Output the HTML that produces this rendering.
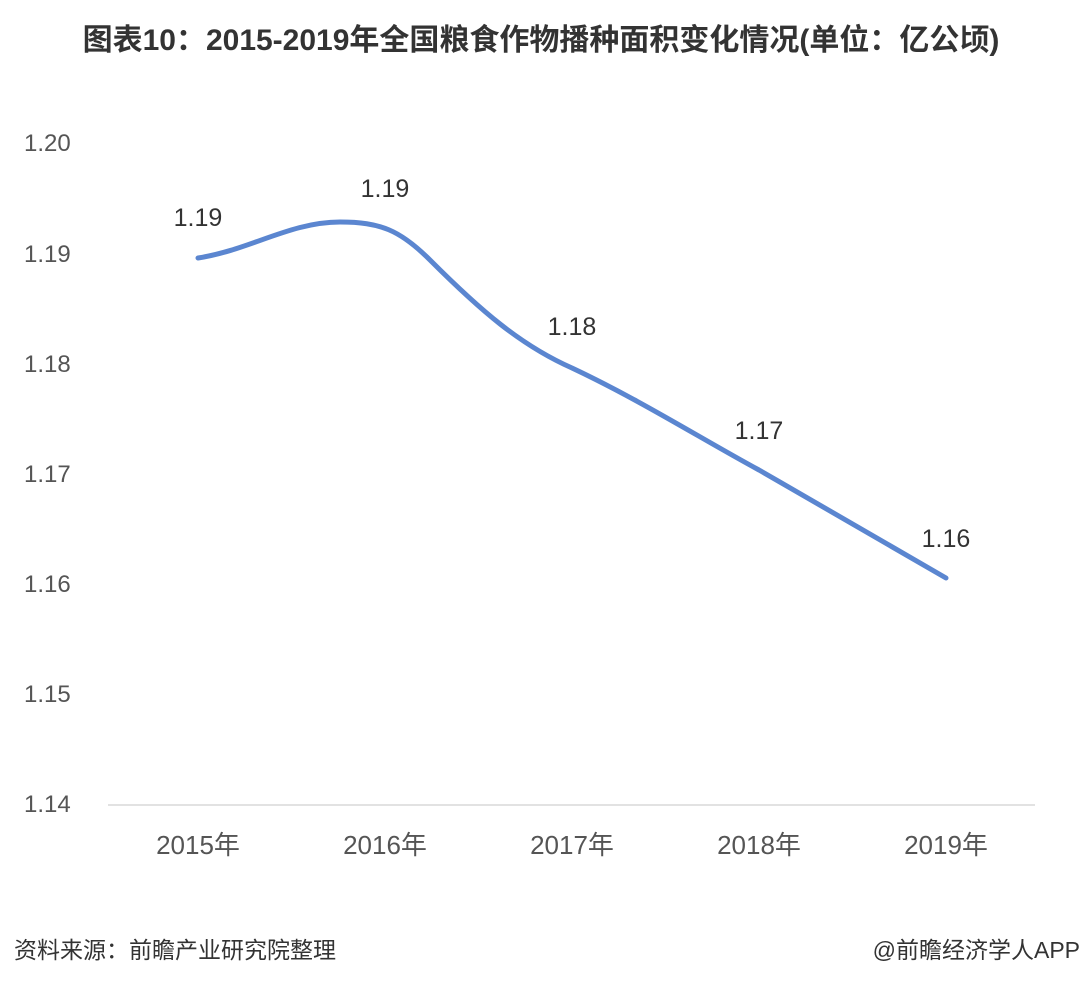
<!DOCTYPE html>
<html><head><meta charset="utf-8"><style>
body{margin:0;background:#fff;}
svg{display:block;}
</style></head><body>
<svg width="1080" height="986" viewBox="0 0 1080 986" xmlns="http://www.w3.org/2000/svg">
<rect width="1080" height="986" fill="#ffffff"/>
<text x="541" y="50" text-anchor="middle" font-family="Liberation Sans, Noto Sans CJK SC, sans-serif" font-size="30" font-weight="bold" fill="#333">图表10：2015-2019年全国粮食作物播种面积变化情况(单位：亿公顷)</text>
<g font-family="Liberation Sans, Noto Sans CJK SC, sans-serif" font-size="24" fill="#555">
<text x="24" y="151">1.20</text>
<text x="24" y="262">1.19</text>
<text x="24" y="372">1.18</text>
<text x="24" y="482">1.17</text>
<text x="24" y="592">1.16</text>
<text x="24" y="702">1.15</text>
<text x="24" y="812">1.14</text>
</g>
<line x1="108" y1="805" x2="1035" y2="805" stroke="#d9d9d9" stroke-width="1.5"/>
<g font-family="Liberation Sans, Noto Sans CJK SC, sans-serif" font-size="26" fill="#555" text-anchor="middle">
<text x="198" y="854">2015年</text>
<text x="385" y="854">2016年</text>
<text x="572" y="854">2017年</text>
<text x="759" y="854">2018年</text>
<text x="946" y="854">2019年</text>
</g>
<path d="M198,258 C250,250 290,222 340,222 C380,222 400,230 430,260 C480,310 520,345 572,368 C640,400 700,438 759,470 C820,505 880,540 946,578" fill="none" stroke="#5b86d0" stroke-width="5" stroke-linecap="round"/>
<g font-family="Liberation Sans, sans-serif" font-size="25" fill="#333" text-anchor="middle">
<text x="198" y="226">1.19</text>
<text x="385" y="197">1.19</text>
<text x="572" y="335">1.18</text>
<text x="759" y="439">1.17</text>
<text x="946" y="547">1.16</text>
</g>
<text x="14" y="958" font-family="Liberation Sans, Noto Sans CJK SC, sans-serif" font-size="23" fill="#333">资料来源：前瞻产业研究院整理</text>
<text x="1080" y="958" text-anchor="end" font-family="Liberation Sans, Noto Sans CJK SC, sans-serif" font-size="23" fill="#333">@前瞻经济学人APP</text>
</svg>
</body></html>
